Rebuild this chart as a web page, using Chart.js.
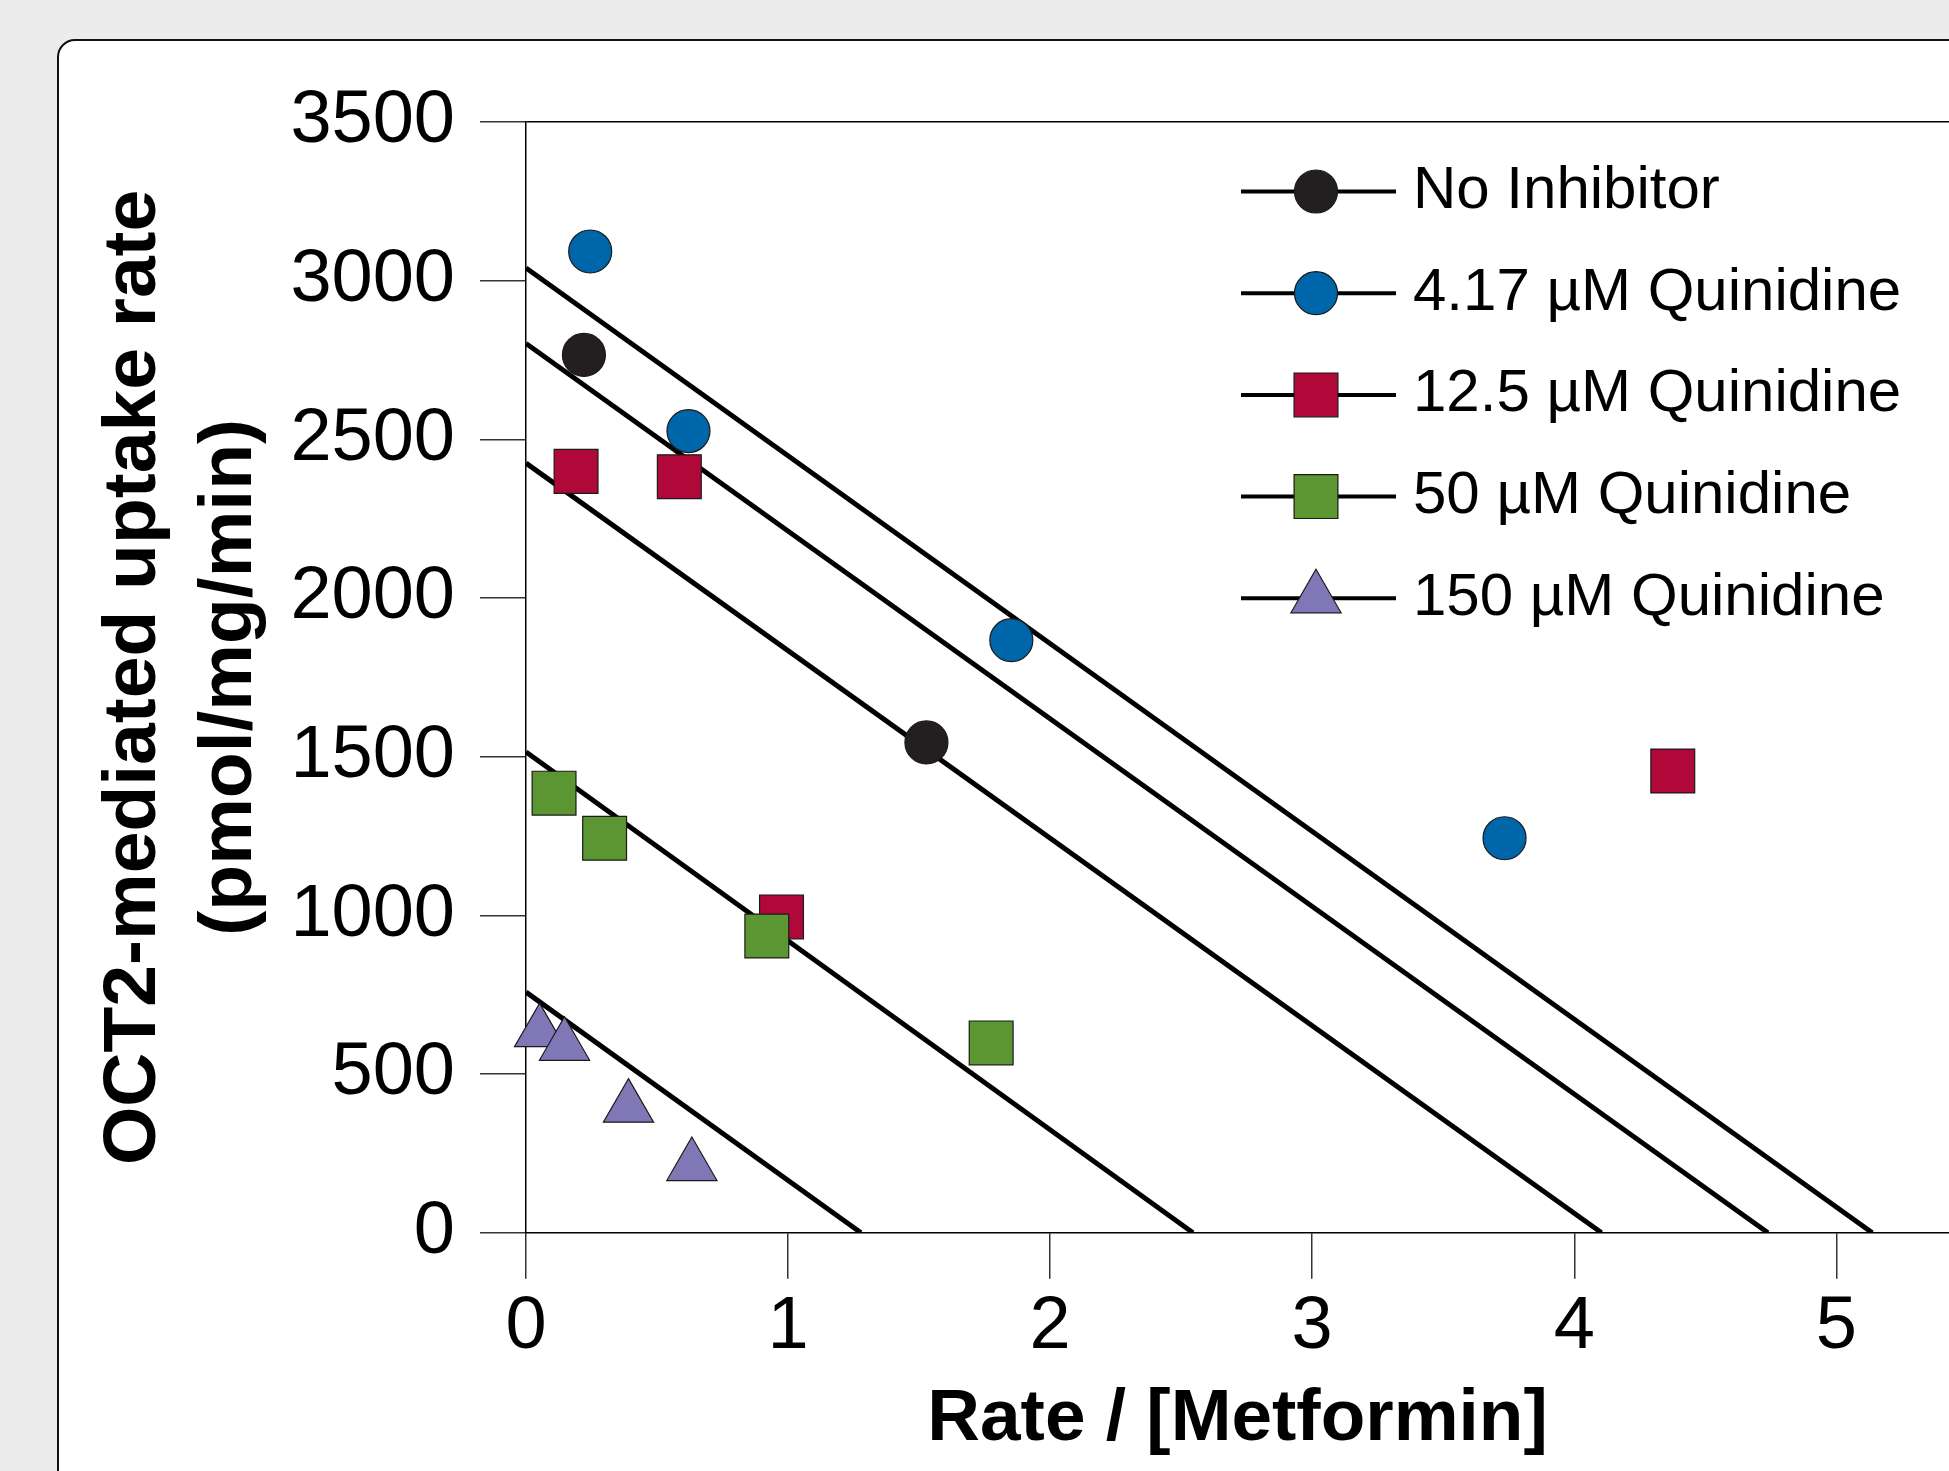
<!DOCTYPE html>
<html>
<head>
<meta charset="utf-8">
<title>OCT2 uptake vs rate / [Metformin]</title>
<script src="https://cdn.jsdelivr.net/npm/chart.js@4.4.1/dist/chart.umd.min.js"></script>
<style>
html, body { margin: 0; padding: 0; background: #ececec; overflow: hidden; width: 1949px; height: 1471px; }
#panel { position: absolute; left: 57px; top: 39px; width: 1950px; height: 1500px; background: #fff; border: 2px solid #111; border-top-left-radius: 18px; }
#chart { position: absolute; left: 0; top: 0; }
</style>
</head>
<body>
<div id="panel"></div>
<canvas id="chart" width="1949" height="1471"></canvas>
<script>
// values
const seriesLabels = ['No Inhibitor', '4.17 µM Quinidine', '12.5 µM Quinidine', '50 µM Quinidine', '150 µM Quinidine'];

const noInhibitorX = [0.221, 1.528];
const noInhibitorY = [2766, 1545];
const quin417X = [0.245, 0.620, 1.852, 3.734];
const quin417Y = [3092, 2526, 1867, 1243];
const quin125X = [0.191, 0.585, 0.975, 4.376];
const quin125Y = [2399, 2382, 995, 1455];
const quin50X = [0.107, 0.300, 0.919, 1.775];
const quin50Y = [1385, 1243, 935, 598];
const quin150X = [0.052, 0.147, 0.391, 0.633];
const quin150Y = [632, 589, 394, 210];

// fitted lines: value at x = 0 and the point where they reach y = 0
const fitYIntercept = [3040, 2802, 2425, 1515, 758];
const fitXIntercept = [5.137, 4.739, 4.104, 2.545, 1.278];

const xTicks = [0, 1, 2, 3, 4, 5];
const yTicks = [0, 500, 1000, 1500, 2000, 2500, 3000, 3500];

// styles
const fillColors = ['#231f20', '#0066aa', '#b00838', '#5c9632', '#8078b6'];
const markerStyles = ['circle', 'circle', 'rect', 'rect', 'triangle'];
const markerSizes = [21.5, 21.5, 31, 31, 29];
const drawOrder = [4, 5, 6, 3, 2];

const FONT = '"Liberation Sans", Arial, Helvetica, sans-serif';

function pts(xs, ys) {
    return xs.map((x, i) => ({ x: x, y: ys[i] }));
}

const seriesPoints = [
    pts(noInhibitorX, noInhibitorY),
    pts(quin417X, quin417Y),
    pts(quin125X, quin125Y),
    pts(quin50X, quin50Y),
    pts(quin150X, quin150Y)
];

const datasets = [];

seriesPoints.forEach(function(data, i) {
    datasets.push({
        label: seriesLabels[i],
        data: data,
        showLine: false,
        legendRow: i,
        backgroundColor: fillColors[i],
        borderColor: '#1a1a1a',
        borderWidth: 1.2,
        pointStyle: markerStyles[i],
        pointRadius: markerSizes[i],
        order: drawOrder[i],
        clip: false
    });
});

fitYIntercept.forEach(function(b, i) {
    datasets.push({
        label: 'fit ' + i,
        data: [{ x: 0, y: b }, { x: fitXIntercept[i], y: 0 }],
        showLine: true,
        borderColor: '#000',
        borderWidth: 5,
        pointRadius: 0,
        order: 10
    });
});

// legend with a line through each marker
const lineLegend = {
    id: 'lineLegend',
    afterDraw(chart) {
        const ctx = chart.ctx;
        const x1 = 1241, x2 = 1396, xm = 1316, tx = 1413, y0 = 191.5, dy = 101.7;
        chart.data.datasets.forEach(function(d) {
            if (d.legendRow === undefined) return;
            const y = y0 + d.legendRow * dy;
            ctx.save();
            ctx.strokeStyle = '#000';
            ctx.lineWidth = 4;
            ctx.beginPath();
            ctx.moveTo(x1, y);
            ctx.lineTo(x2, y);
            ctx.stroke();
            ctx.fillStyle = d.backgroundColor;
            ctx.strokeStyle = d.borderColor;
            ctx.lineWidth = d.borderWidth;
            Chart.helpers.drawPoint(ctx, { pointStyle: d.pointStyle, radius: d.pointRadius, rotation: 0, borderWidth: d.borderWidth }, xm, y);
            ctx.fillStyle = '#000';
            ctx.font = '60px ' + FONT;
            ctx.textBaseline = 'middle';
            ctx.textAlign = 'left';
            ctx.fillText(d.label, tx, y);
            ctx.restore();
        });
    }
};

Chart.defaults.color = '#000';

const plain = v => String(v);

const ctx = document.getElementById('chart').getContext('2d');
const chart = new Chart(ctx, {
    type: 'scatter',
    data: { datasets: datasets },
    options: {
        responsive: false,
        animation: false,
        devicePixelRatio: 1,
        events: [],
        layout: { autoPadding: false, padding: { top: 122, left: 0, right: 0, bottom: 0 } },
        plugins: {
            legend: { display: false },
            tooltip: { enabled: false }
        },
        scales: {
            x: {
                type: 'linear',
                min: 0,
                max: 5.43,
                afterFit: function(s) { s.height = 238.3; },
                afterBuildTicks: function(s) { s.ticks = xTicks.map(v => ({ value: v })); },
                border: { color: '#000', width: 1.5 },
                grid: {
                    color: 'rgba(0,0,0,0)',
                    tickColor: '#333',
                    lineWidth: 1.5,
                    tickLength: 46
                },
                ticks: {
                    includeBounds: false,
                    maxRotation: 0,
                    autoSkip: false,
                    padding: 4,
                    callback: plain,
                    font: { family: FONT, size: 74 }
                },
                title: {
                    display: true,
                    text: 'Rate / [Metformin]',
                    font: { family: FONT, size: 73, weight: 'bold', lineHeight: 1.2 },
                    padding: { top: 0, bottom: 7 }
                }
            },
            y: {
                type: 'linear',
                min: 0,
                max: 3500,
                afterFit: function(s) { s.width = 526; },
                afterBuildTicks: function(s) { s.ticks = yTicks.map(v => ({ value: v })); },
                border: { color: '#000', width: 1.5 },
                grid: {
                    color: function(c) { return c.tick && c.tick.value === 3500 ? '#000' : 'rgba(0,0,0,0)'; },
                    tickColor: '#333',
                    lineWidth: 1.5,
                    tickLength: 46
                },
                ticks: {
                    includeBounds: false,
                    autoSkip: false,
                    padding: 25,
                    callback: plain,
                    font: { family: FONT, size: 74 }
                },
                title: {
                    display: true,
                    text: ['OCT2-mediated uptake rate', '(pmol/mg/min)'],
                    font: { family: FONT, size: 75, weight: 'bold', lineHeight: 96 / 75 },
                    padding: { top: 86, bottom: 0 }
                }
            }
        }
    },
    plugins: [lineLegend]
});
</script>
</body>
</html>
